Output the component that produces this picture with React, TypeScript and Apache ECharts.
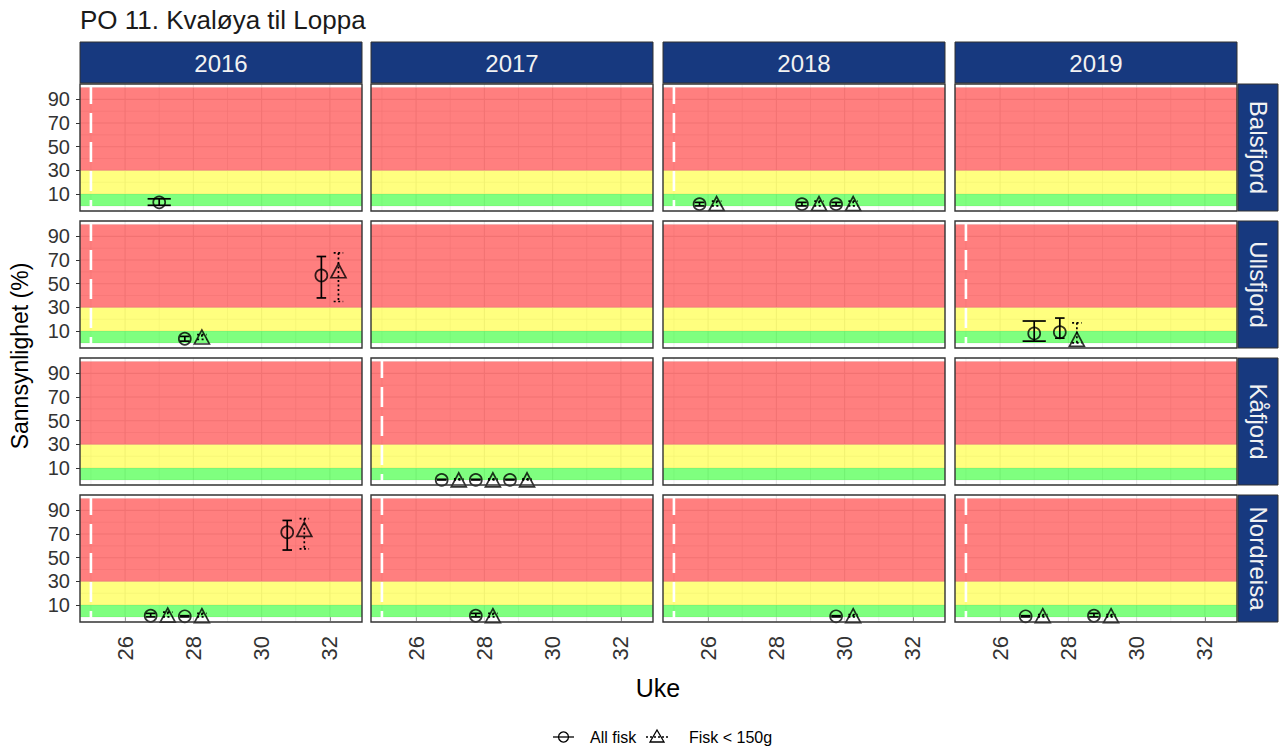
import React, { useEffect, useRef } from "react";
import * as echarts from "echarts";

// ---------- data ----------
const chartTitle = "PO 11. Kvaløya til Loppa";
const regions = ["Balsfjord", "Ullsfjord", "Kåfjord", "Nordreisa"];
const years = ["2016", "2017", "2018", "2019"];
const xTickWeeks = [26, 28, 30, 32];
const gridWeeks = [25, 26, 27, 28, 29, 30, 31, 32];
const yTickValues = [10, 30, 50, 70, 90];
const gridLevels = [0, 10, 20, 30, 40, 50, 60, 70, 80, 90, 100];
const riskLimits = [0, 10, 30, 100]; // green | yellow | red
const referenceWeek = 25;
const groupNames = ["All fisk", "Fisk < 150g"];
const xTitle = "Uke";
const yTitle = "Sannsynlighet (%)";

// [region, year, week, estimate %, lower %, upper %]
const allFisk: [string, string, number, number, number, number][] = [
  ["Balsfjord", "2016", 27, 3, 0.5, 6],
  ["Balsfjord", "2018", 26, 1.5, 0, 3],
  ["Balsfjord", "2018", 29, 1.5, 0, 3],
  ["Balsfjord", "2018", 30, 1.5, 0, 3],
  ["Ullsfjord", "2016", 28, 3.5, 1.5, 5.5],
  ["Ullsfjord", "2016", 32, 57, 38, 73],
  ["Ullsfjord", "2019", 27, 8, 1.5, 18.5],
  ["Ullsfjord", "2019", 28, 9, 4, 21],
  ["Kåfjord", "2017", 27, 0, 0, 0.5],
  ["Kåfjord", "2017", 28, 0, 0, 0.5],
  ["Kåfjord", "2017", 29, 0, 0, 0.5],
  ["Nordreisa", "2016", 27, 1, 0, 3],
  ["Nordreisa", "2016", 28, 0.5, 0, 1],
  ["Nordreisa", "2016", 31, 71.5, 56.5, 81.5],
  ["Nordreisa", "2017", 28, 1, 0, 3],
  ["Nordreisa", "2018", 30, 0.5, 0, 1],
  ["Nordreisa", "2019", 27, 0.5, 0, 1],
  ["Nordreisa", "2019", 29, 1, 0, 3],
];

const fiskUnder150: [string, string, number, number, number, number][] = [
  ["Balsfjord", "2018", 26, 2, 0, 4],
  ["Balsfjord", "2018", 29, 2, 0, 4],
  ["Balsfjord", "2018", 30, 2, 0, 4],
  ["Ullsfjord", "2016", 28, 5, 3, 7],
  ["Ullsfjord", "2016", 32, 61, 35, 76],
  ["Ullsfjord", "2019", 28, 3, 0, 17],
  ["Kåfjord", "2017", 27, 0, 0, 1],
  ["Kåfjord", "2017", 28, 0, 0, 1],
  ["Kåfjord", "2017", 29, 0, 0, 1],
  ["Nordreisa", "2016", 27, 1.5, 0, 4],
  ["Nordreisa", "2016", 28, 1, 0, 3],
  ["Nordreisa", "2016", 31, 74, 57.5, 83],
  ["Nordreisa", "2017", 28, 1, 0, 3],
  ["Nordreisa", "2018", 30, 1, 0, 2],
  ["Nordreisa", "2019", 27, 1, 0, 2],
  ["Nordreisa", "2019", 29, 1, 0, 2],
];

// ---------- layout / style ----------
const FONT = "'Liberation Sans', Arial, Helvetica, sans-serif";
const X_MIN = 24.68;
const X_MAX = 32.94;
const Y_MIN = -4.3;
const Y_MAX = 103;
const colLeft = [80, 371, 663, 955];
const panelW = 282;
const rowTop = [84, 221, 358, 495];
const panelH = 127;
const stripTop = 42;
const stripH = 41;
const stripRightX = 1238;
const stripRightW = 40;
const STRIP_FILL = "#17397f";
const riskColors = ["rgba(0,255,0,0.5)", "rgba(255,255,0,0.5)", "rgba(255,0,0,0.5)"];
const DODGE = 0.25;
const MARK_LW = 1.7;

function buildOption() {
  const grid: any[] = [];
  const xAxis: any[] = [];
  const yAxis: any[] = [];
  const series: any[] = [];
  const groups = [allFisk, fiskUnder150];

  regions.forEach((region, r) => {
    years.forEach((year, c) => {
      const i = r * years.length + c;
      const isBottom = r === regions.length - 1;
      const isLeft = c === 0;
      grid.push({ left: colLeft[c], top: rowTop[r], width: panelW, height: panelH, show: false });
      xAxis.push({
        type: "value",
        gridIndex: i,
        min: X_MIN,
        max: X_MAX,
        axisLine: { show: false },
        splitLine: { show: false },
        axisTick: { show: isBottom, customValues: xTickWeeks, length: 4, lineStyle: { color: "#333", width: 1 } },
        axisLabel: {
          show: isBottom,
          customValues: xTickWeeks,
          rotate: 90,
          margin: 14,
          fontSize: 22,
          color: "#333",
          fontFamily: FONT,
        },
      });
      yAxis.push({
        type: "value",
        gridIndex: i,
        min: Y_MIN,
        max: Y_MAX,
        axisLine: { show: false },
        splitLine: { show: false },
        axisTick: { show: isLeft, customValues: yTickValues, length: 4, lineStyle: { color: "#333", width: 1 } },
        axisLabel: {
          show: isLeft,
          customValues: yTickValues,
          margin: 10,
          fontSize: 20,
          color: "#333",
          fontFamily: FONT,
        },
      });

      const panelRecords = groups.map((g) => g.filter((d) => d[0] === region && d[1] === year));
      const hasData = panelRecords.some((p) => p.length > 0);

      // background: grid lines, risk bands, reference week line
      series.push({
        type: "custom",
        xAxisIndex: i,
        yAxisIndex: i,
        silent: true,
        z: 1,
        data: [[referenceWeek, 0]],
        renderItem: (params: any, api: any) => {
          const cs = params.coordSys;
          const y0 = cs.y;
          const y1 = cs.y + cs.height;
          const children: any[] = [];
          gridWeeks.forEach((w) => {
            const px = api.coord([w, 0])[0];
            children.push({
              type: "line",
              shape: { x1: px, y1: y0, x2: px, y2: y1 },
              style: { stroke: "#e4e4e4", lineWidth: xTickWeeks.includes(w) ? 1.1 : 0.6 },
            });
          });
          gridLevels.forEach((v) => {
            const py = api.coord([X_MIN, v])[1];
            children.push({
              type: "line",
              shape: { x1: cs.x, y1: py, x2: cs.x + cs.width, y2: py },
              style: { stroke: "#e4e4e4", lineWidth: yTickValues.includes(v) ? 1.1 : 0.6 },
            });
          });
          riskColors.forEach((col, k) => {
            const yTopPx = api.coord([X_MIN, riskLimits[k + 1]])[1];
            const yBotPx = api.coord([X_MIN, riskLimits[k]])[1];
            children.push({
              type: "rect",
              shape: { x: cs.x, y: yTopPx, width: cs.width, height: yBotPx - yTopPx },
              style: { fill: col },
            });
          });
          if (hasData) {
            const px = api.coord([api.value(0), 0])[0];
            children.push({
              type: "line",
              shape: { x1: px, y1: y0, x2: px, y2: y1 },
              style: { stroke: "#ffffff", lineWidth: 2.6, lineDash: [20, 9] },
            });
          }
          return { type: "group", children };
        },
      });

      // error bars + points per group
      panelRecords.forEach((recs, gIdx) => {
        if (!recs.length) return;
        const other = panelRecords[1 - gIdx];
        const rows = recs.map((d) => {
          const paired = other.some((o) => o[2] === d[2]);
          const off = paired ? (gIdx === 0 ? -DODGE : DODGE) : 0;
          const hw = paired ? 0.14 : 0.34;
          return { x: d[2] + off, est: d[3], lo: d[4], hi: d[5], hw };
        });
        const dotted = gIdx === 1;
        series.push({
          type: "custom",
          name: groupNames[gIdx],
          xAxisIndex: i,
          yAxisIndex: i,
          silent: true,
          z: 2,
          clip: true,
          data: rows.map((p) => [p.x, p.lo, p.hi, p.hw]),
          renderItem: (params: any, api: any) => {
            const x = api.value(0);
            const lo = api.value(1);
            const hi = api.value(2);
            const hw = api.value(3);
            const a = api.coord([x, hi]);
            const b = api.coord([x, lo]);
            const l = api.coord([x - hw, hi])[0];
            const rr = api.coord([x + hw, hi])[0];
            const style: any = { stroke: "#000", lineWidth: MARK_LW };
            if (dotted) style.lineDash = [2, 2.5];
            return {
              type: "group",
              children: [
                { type: "line", shape: { x1: a[0], y1: a[1], x2: b[0], y2: b[1] }, style },
                { type: "line", shape: { x1: l, y1: a[1], x2: rr, y2: a[1] }, style },
                { type: "line", shape: { x1: l, y1: b[1], x2: rr, y2: b[1] }, style },
              ],
            };
          },
        });
        series.push({
          type: "scatter",
          name: groupNames[gIdx],
          xAxisIndex: i,
          yAxisIndex: i,
          silent: true,
          z: 3,
          data: rows.map((p) => [p.x, p.est]),
          symbol: gIdx === 0 ? "circle" : "triangle",
          symbolSize: gIdx === 0 ? 12 : [15, 14],
          itemStyle: { color: "rgba(0,0,0,0)", borderColor: "#000", borderWidth: MARK_LW },
        });
      });
    });
  });

  // ---------- graphic: title, strips, borders, axis titles, legend ----------
  const graphic: any[] = [];
  graphic.push({
    type: "text",
    left: 80,
    top: 7,
    style: { text: chartTitle, fontSize: 26, fontFamily: FONT, fill: "#1a1a1a" },
  });
  years.forEach((year, c) => {
    graphic.push({
      type: "rect",
      shape: { x: colLeft[c], y: stripTop, width: panelW, height: stripH },
      style: { fill: STRIP_FILL, stroke: "#333", lineWidth: 1 },
      z: 5,
    });
    graphic.push({
      type: "text",
      x: colLeft[c] + panelW / 2,
      y: stripTop + stripH / 2 + 1,
      style: {
        text: year,
        fontSize: 24,
        fontFamily: FONT,
        fill: "#f2f2f2",
        align: "center",
        verticalAlign: "middle",
      },
      z: 6,
    });
  });
  regions.forEach((region, r) => {
    graphic.push({
      type: "rect",
      shape: { x: stripRightX, y: rowTop[r], width: stripRightW, height: panelH },
      style: { fill: STRIP_FILL, stroke: "#333", lineWidth: 1 },
      z: 5,
    });
    graphic.push({
      type: "text",
      x: stripRightX + stripRightW / 2,
      y: rowTop[r] + panelH / 2,
      rotation: -Math.PI / 2,
      style: {
        text: region,
        fontSize: 24,
        fontFamily: FONT,
        fill: "#f2f2f2",
        align: "center",
        verticalAlign: "middle",
      },
      z: 6,
    });
    years.forEach((_, c) => {
      graphic.push({
        type: "rect",
        shape: { x: colLeft[c], y: rowTop[r], width: panelW, height: panelH },
        style: { fill: "none", stroke: "#333", lineWidth: 1.4 },
        z: 10,
        silent: true,
      });
    });
  });
  graphic.push({
    type: "text",
    x: 658,
    y: 688,
    style: { text: xTitle, fontSize: 25, fontFamily: FONT, fill: "#000", align: "center", verticalAlign: "middle" },
  });
  graphic.push({
    type: "text",
    x: 20,
    y: 356,
    rotation: Math.PI / 2,
    style: { text: yTitle, fontSize: 23, fontFamily: FONT, fill: "#000", align: "center", verticalAlign: "middle" },
  });
  // legend
  const ly = 737;
  graphic.push({ type: "line", shape: { x1: 553, y1: ly, x2: 574, y2: ly }, style: { stroke: "#000", lineWidth: 1.3 } });
  graphic.push({ type: "circle", shape: { cx: 563.5, cy: ly, r: 5 }, style: { fill: "none", stroke: "#000", lineWidth: 1.3 } });
  graphic.push({
    type: "text",
    x: 590,
    y: ly,
    style: { text: groupNames[0], fontSize: 16, fontFamily: FONT, fill: "#000", verticalAlign: "middle" },
  });
  graphic.push({
    type: "line",
    shape: { x1: 646, y1: ly, x2: 668, y2: ly },
    style: { stroke: "#000", lineWidth: 1.3, lineDash: [2, 2] },
  });
  graphic.push({
    type: "polygon",
    shape: { points: [[650, ly + 5], [664, ly + 5], [657, ly - 7]] },
    style: { fill: "none", stroke: "#000", lineWidth: 1.3 },
  });
  graphic.push({
    type: "text",
    x: 689,
    y: ly,
    style: { text: groupNames[1], fontSize: 16, fontFamily: FONT, fill: "#000", verticalAlign: "middle" },
  });

  return {
    animation: false,
    backgroundColor: "#ffffff",
    grid,
    xAxis,
    yAxis,
    series,
    graphic,
  };
}

export default function App() {
  const ref = useRef<HTMLDivElement>(null);
  useEffect(() => {
    document.body.style.margin = "0";
    const chart = echarts.init(ref.current as HTMLDivElement, null, { renderer: "svg" });
    chart.setOption(buildOption() as any);
    return () => {
      chart.dispose();
    };
  }, []);
  return <div ref={ref} style={{ width: 1279, height: 749 }} />;
}
